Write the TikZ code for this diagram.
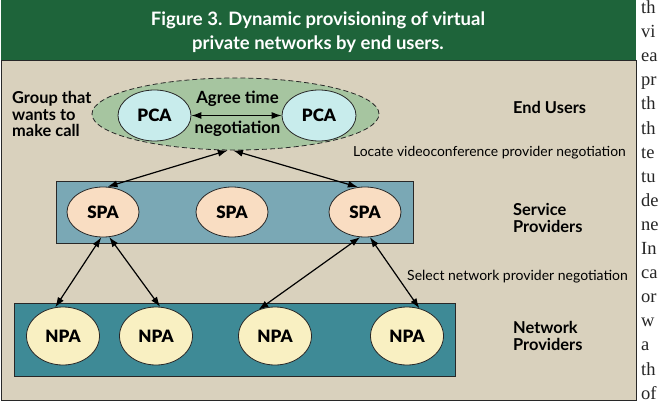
\documentclass[tikz,border=0pt]{standalone}
\usepackage{fontspec}
\setmainfont{Lato}
\newfontfamily\heavy{Lato Black}
\newfontfamily\bodyserif{Liberation Serif}
\usetikzlibrary{shapes.geometric,arrows.meta}
\definecolor{hdr}{RGB}{30,100,58}
\definecolor{beige}{RGB}{217,209,189}
\definecolor{grpgreen}{RGB}{166,197,160}
\definecolor{pcafill}{RGB}{200,236,236}
\definecolor{spabg}{RGB}{122,168,181}
\definecolor{spafill}{RGB}{249,221,194}
\definecolor{npabg}{RGB}{62,138,150}
\definecolor{npafill}{RGB}{249,240,194}
\definecolor{edge}{RGB}{40,40,40}
\tikzset{
  agent/.style={ellipse, draw=edge, line width=0.8pt, inner sep=0pt,
    font=\heavy\fontsize{17}{20}\selectfont, text=black},
  layerbox/.style={rectangle, draw=edge, line width=0.8pt, inner sep=0pt},
  lbl/.style={font=\bfseries\fontsize{16.4}{17}\selectfont, align=left, anchor=west, inner sep=0pt},
  neg/.style={font=\fontsize{14}{16}\selectfont, anchor=west, inner sep=0pt},
  link/.style={{Latex[length=10pt,width=7pt]}-{Latex[length=10pt,width=7pt]}, line width=1.2pt},
}
\begin{document}
\begin{tikzpicture}[x=1pt,y=-1pt]
\useasboundingbox (0,0) rectangle (660,404);
\fill[white] (0,0) rectangle (660,404);
\filldraw[fill=beige, draw=edge, line width=1pt] (1,60) rectangle (636,400);
\fill[hdr] (1,0) rectangle (636,60);
\node[font=\bfseries\fontsize{18.5}{24}\selectfont, text=white, align=center, inner sep=0pt] (title) at (318,32)
  {Figure 3. Dynamic provisioning of virtual\\private networks by end users.};

% End users
\node[ellipse, draw=edge, dashed, dash pattern=on 5pt off 3pt, line width=0.8pt, fill=grpgreen,
  minimum width=287pt, minimum height=72pt, inner sep=0pt] (grp) at (235.5,114) {};
\node[agent, fill=pcafill, minimum width=73pt, minimum height=51pt] (pca1) at (154.5,115.5) {PCA};
\node[agent, fill=pcafill, minimum width=74pt, minimum height=51pt] (pca2) at (319,115.5) {PCA};
\draw[link] (pca1) -- (pca2);
\node[font=\bfseries\fontsize{16.8}{18}\selectfont, inner sep=0pt] (agree) at (237.5,99) {Agree time};
\node[font=\bfseries\fontsize{16.8}{18}\selectfont, inner sep=0pt] (negot) at (237.5,129) {negotiation};
\node[lbl, font=\bfseries\fontsize{16.4}{16.5}\selectfont] (group) at (12,114) {Group that\\wants to\\make call};
\node[lbl] (endusers) at (513,107) {End Users};
\node[neg, font=\fontsize{13.9}{16}\selectfont] (locate) at (353,153) {Locate videoconference provider negotiation};

% Service providers
\node[layerbox, fill=spabg, minimum width=357pt, minimum height=62pt] (spabox) at (234.5,212) {};
\node[agent, fill=spafill, minimum width=72pt, minimum height=50pt] (spa1) at (103,212) {SPA};
\node[agent, fill=spafill, minimum width=72pt, minimum height=50pt] (spa2) at (232,212) {SPA};
\node[agent, fill=spafill, minimum width=72pt, minimum height=50pt] (spa3) at (365,212) {SPA};
\node[lbl, font=\bfseries\fontsize{16.4}{17.5}\selectfont] (service) at (513,218) {Service\\Providers};
\node[neg] (select) at (407,277) {Select network provider negotiation};

% Network providers
\node[layerbox, fill=npabg, minimum width=441pt, minimum height=73pt] (npabox) at (234.5,339.5) {};
\node[agent, fill=npafill, minimum width=73pt, minimum height=58pt] (npa1) at (63,336) {NPA};
\node[agent, fill=npafill, minimum width=73pt, minimum height=58pt] (npa2) at (156,336) {NPA};
\node[agent, fill=npafill, minimum width=73pt, minimum height=58pt] (npa3) at (275,336) {NPA};
\node[agent, fill=npafill, minimum width=73pt, minimum height=58pt] (npa4) at (407,336) {NPA};
\node[lbl, font=\bfseries\fontsize{16.4}{17}\selectfont] (network) at (513,336) {Network\\Providers};

% connectors
\draw[link] (spa1.80) -- (grp.258);
\draw[link] (spa3.106) -- (grp.266);
\draw[link] (npa1.105) -- (spa1.266);
\draw[link] (npa2.82) -- (spa1.284);
\draw[link] (npa3.122) -- (spa3.259);
\draw[link] (npa4.66) -- (spa3.281);

% fragments of the page's body text at the right edge
\begin{scope}
\clip (637,0) rectangle (660,404);
\foreach \t [count=\i from 0] in {th,vi,ea,pr,th,th,te,tu,de,ne,In,ca,or,w,a,th,of}
  \node[font=\bodyserif\fontsize{18.5}{22}\selectfont, anchor=base west, inner sep=0pt, text=black!85] (body\i) at (641,{13.5+24.1*\i}) {\t};
\end{scope}
\end{tikzpicture}
\end{document}
